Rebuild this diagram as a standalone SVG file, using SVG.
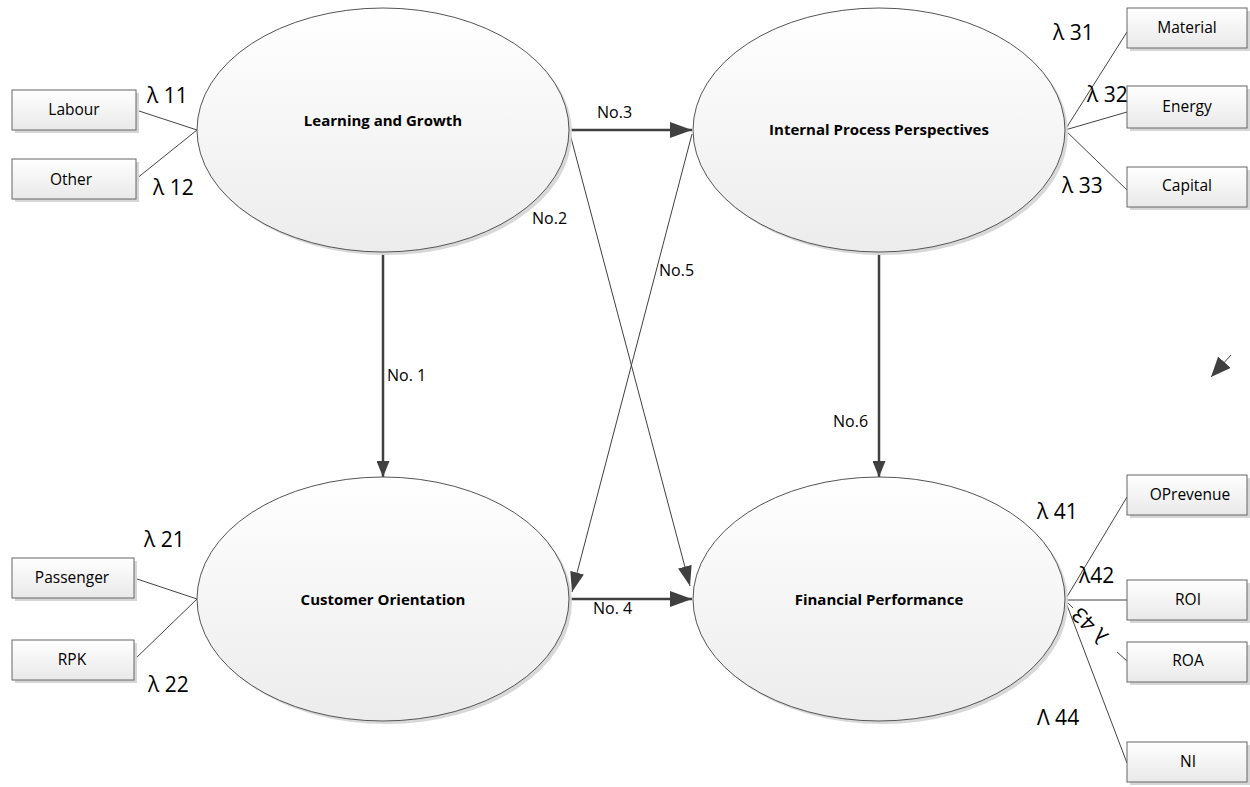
<svg xmlns="http://www.w3.org/2000/svg" width="1250" height="787" viewBox="0 0 1250 787">
  <defs>
    <linearGradient id="ellFill" x1="0" y1="0" x2="0" y2="1">
      <stop offset="0" stop-color="#ffffff"/>
      <stop offset="1" stop-color="#ececec"/>
    </linearGradient>
    <linearGradient id="boxFill" x1="0" y1="0" x2="0" y2="1">
      <stop offset="0" stop-color="#ffffff"/>
      <stop offset="1" stop-color="#e9e9e9"/>
    </linearGradient>
    <marker id="arrow" viewBox="0 0 10 10" refX="10" refY="5" markerWidth="16" markerHeight="13" markerUnits="userSpaceOnUse" orient="auto" preserveAspectRatio="none">
      <path d="M0,0 L10,5 L0,10 z" fill="#404040"/>
    </marker>
    <marker id="arrowBig" viewBox="0 0 10 10" refX="10" refY="5" markerWidth="22" markerHeight="16" markerUnits="userSpaceOnUse" orient="auto" preserveAspectRatio="none">
      <path d="M0,0 L10,5 L0,10 z" fill="#404040"/>
    </marker>
    <marker id="arrowThin" viewBox="0 0 10 10" refX="10" refY="5" markerWidth="20" markerHeight="14" markerUnits="userSpaceOnUse" orient="auto" preserveAspectRatio="none">
      <path d="M0,0 L10,5 L0,10 z" fill="#404040"/>
    </marker>
    <marker id="arrowStray" viewBox="0 0 10 10" refX="10" refY="5" markerWidth="20" markerHeight="17" markerUnits="userSpaceOnUse" orient="auto" preserveAspectRatio="none">
      <path d="M0,0 L10,5 L0,10 z" fill="#404040"/>
    </marker>
  </defs>
  <style>
    .ell { fill: url(#ellFill); stroke: #555; stroke-width: 1; }
    .ellShadow { fill: #d8d8d8; }
    .box { fill: url(#boxFill); stroke: #666; stroke-width: 1; }
    .boxShadow { fill: #d6d6d6; }
    .title { font-family: "Open Sans", "Liberation Sans", sans-serif; font-size: 15px; font-weight: bold; fill: #000; text-anchor: middle; }
    .lbl { font-family: "Open Sans", "Liberation Sans", sans-serif; font-size: 15.5px; fill: #000; text-anchor: middle; }
    .edge { font-family: "Open Sans", "Liberation Sans", sans-serif; font-size: 16px; fill: #000; }
    .lam { font-family: "Open Sans", "Liberation Sans", sans-serif; font-size: 21px; fill: #000; }
    .thick { stroke: #404040; stroke-width: 2.5; fill: none; }
    .thin { stroke: #404040; stroke-width: 1; fill: none; }
    .load { stroke: #444; stroke-width: 1; fill: none; }
  </style>

  <!-- connectors -->
  <g id="connectors">
    <!-- loading lines -->
    <line class="load" x1="136" y1="110" x2="197" y2="130"/>
    <line class="load" x1="136" y1="179" x2="197" y2="130"/>
    <line class="load" x1="134" y1="578" x2="197" y2="599"/>
    <line class="load" x1="134" y1="660" x2="197" y2="599"/>
    <line class="load" x1="1065" y1="130" x2="1127" y2="32"/>
    <line class="load" x1="1065" y1="130" x2="1127" y2="112"/>
    <line class="load" x1="1065" y1="130" x2="1127" y2="190"/>
    <line class="load" x1="1065" y1="600" x2="1127" y2="497"/>
    <line class="load" x1="1065" y1="600" x2="1127" y2="600"/>
    <line class="load" x1="1065" y1="600" x2="1073" y2="608"/>
    <line class="load" x1="1117" y1="652" x2="1127" y2="661"/>
    <line class="load" x1="1065" y1="600" x2="1127" y2="763"/>

    <!-- structural paths -->
    <line class="thick" x1="383" y1="253" x2="383" y2="477" marker-end="url(#arrow)"/>
    <line class="thick" x1="879" y1="253" x2="879" y2="477" marker-end="url(#arrow)"/>
    <line class="thick" x1="570" y1="130" x2="692" y2="130" marker-end="url(#arrowBig)"/>
    <line class="thick" x1="570" y1="599" x2="692" y2="599" marker-end="url(#arrowBig)"/>
    <line class="thin" x1="570" y1="134" x2="690" y2="586" marker-end="url(#arrowThin)"/>
    <line class="thin" x1="692" y1="134" x2="572" y2="592" marker-end="url(#arrowThin)"/>

    <!-- stray arrow at right -->
    <line class="thin" x1="1231" y1="355" x2="1211" y2="377" marker-end="url(#arrowStray)"/>

    <text class="edge" x="387" y="381">No. 1</text>
    <text class="edge" x="532" y="224">No.2</text>
    <text class="edge" x="597" y="118">No.3</text>
    <text class="edge" x="593" y="614">No. 4</text>
    <text class="edge" x="659" y="276">No.5</text>
    <text class="edge" x="833" y="427">No.6</text>
  </g>

  <!-- latent constructs -->
  <g id="learning-growth">
    <ellipse class="ellShadow" cx="386" cy="133" rx="186" ry="122"/>
    <ellipse class="ell" cx="383" cy="130" rx="186" ry="122"/>
    <text class="title" x="383" y="126">Learning and Growth</text>
  </g>
  <g id="internal-process">
    <ellipse class="ellShadow" cx="882" cy="133" rx="186" ry="122"/>
    <ellipse class="ell" cx="879" cy="130" rx="186" ry="122"/>
    <text class="title" x="879" y="135">Internal Process Perspectives</text>
  </g>
  <g id="customer-orientation">
    <ellipse class="ellShadow" cx="386" cy="602" rx="186" ry="122"/>
    <ellipse class="ell" cx="383" cy="599" rx="186" ry="122"/>
    <text class="title" x="383" y="605">Customer Orientation</text>
  </g>
  <g id="financial-performance">
    <ellipse class="ellShadow" cx="882" cy="602" rx="186" ry="122"/>
    <ellipse class="ell" cx="879" cy="599" rx="186" ry="122"/>
    <text class="title" x="879" y="605">Financial Performance</text>
  </g>

  <!-- indicators -->
  <g id="labour">
    <rect class="boxShadow" x="15" y="93" width="124" height="40"/>
    <rect class="box" x="12" y="90" width="124" height="40"/>
    <text class="lbl" x="74" y="115">Labour</text>
  </g>
  <g id="other">
    <rect class="boxShadow" x="15" y="162" width="124" height="40"/>
    <rect class="box" x="12" y="159" width="124" height="40"/>
    <text class="lbl" x="71" y="185">Other</text>
  </g>
  <g id="passenger">
    <rect class="boxShadow" x="15" y="561" width="122" height="40"/>
    <rect class="box" x="12" y="558" width="122" height="40"/>
    <text class="lbl" x="72" y="583">Passenger</text>
  </g>
  <g id="rpk">
    <rect class="boxShadow" x="15" y="643" width="122" height="40"/>
    <rect class="box" x="12" y="640" width="122" height="40"/>
    <text class="lbl" x="72" y="665">RPK</text>
  </g>
  <g id="material">
    <rect class="boxShadow" x="1130" y="11" width="120" height="40"/>
    <rect class="box" x="1127" y="8" width="120" height="40"/>
    <text class="lbl" x="1187" y="33">Material</text>
  </g>
  <g id="energy">
    <rect class="boxShadow" x="1130" y="89" width="120" height="42"/>
    <rect class="box" x="1127" y="86" width="120" height="42"/>
    <text class="lbl" x="1187" y="112">Energy</text>
  </g>
  <g id="capital">
    <rect class="boxShadow" x="1130" y="170" width="120" height="40"/>
    <rect class="box" x="1127" y="167" width="120" height="40"/>
    <text class="lbl" x="1187" y="191">Capital</text>
  </g>
  <g id="oprevenue">
    <rect class="boxShadow" x="1130" y="478" width="120" height="40"/>
    <rect class="box" x="1127" y="475" width="120" height="40"/>
    <text class="lbl" x="1190" y="500">OPrevenue</text>
  </g>
  <g id="roi">
    <rect class="boxShadow" x="1130" y="583" width="120" height="40"/>
    <rect class="box" x="1127" y="580" width="120" height="40"/>
    <text class="lbl" x="1188" y="605">ROI</text>
  </g>
  <g id="roa">
    <rect class="boxShadow" x="1130" y="645" width="120" height="40"/>
    <rect class="box" x="1127" y="642" width="120" height="40"/>
    <text class="lbl" x="1188" y="666">ROA</text>
  </g>
  <g id="ni">
    <rect class="boxShadow" x="1130" y="745" width="120" height="40"/>
    <rect class="box" x="1127" y="742" width="120" height="40"/>
    <text class="lbl" x="1188" y="767">NI</text>
  </g>

  <!-- loading labels -->
  <g id="loadings">
    <text class="lam" x="147" y="103">λ 11</text>
    <text class="lam" x="153" y="195">λ 12</text>
    <text class="lam" x="144" y="547">λ 21</text>
    <text class="lam" x="148" y="692">λ 22</text>
    <text class="lam" x="1053" y="40">λ 31</text>
    <text class="lam" x="1087" y="102">λ 32</text>
    <text class="lam" x="1062" y="193">λ 33</text>
    <text class="lam" x="1037" y="519">λ 41</text>
    <text class="lam" x="1079" y="583">λ42</text>
    <text class="lam" transform="translate(1090,625) rotate(225)" text-anchor="middle" y="7">λ 43</text>
    <text class="lam" x="1037" y="725">Λ 44</text>
  </g>
</svg>
